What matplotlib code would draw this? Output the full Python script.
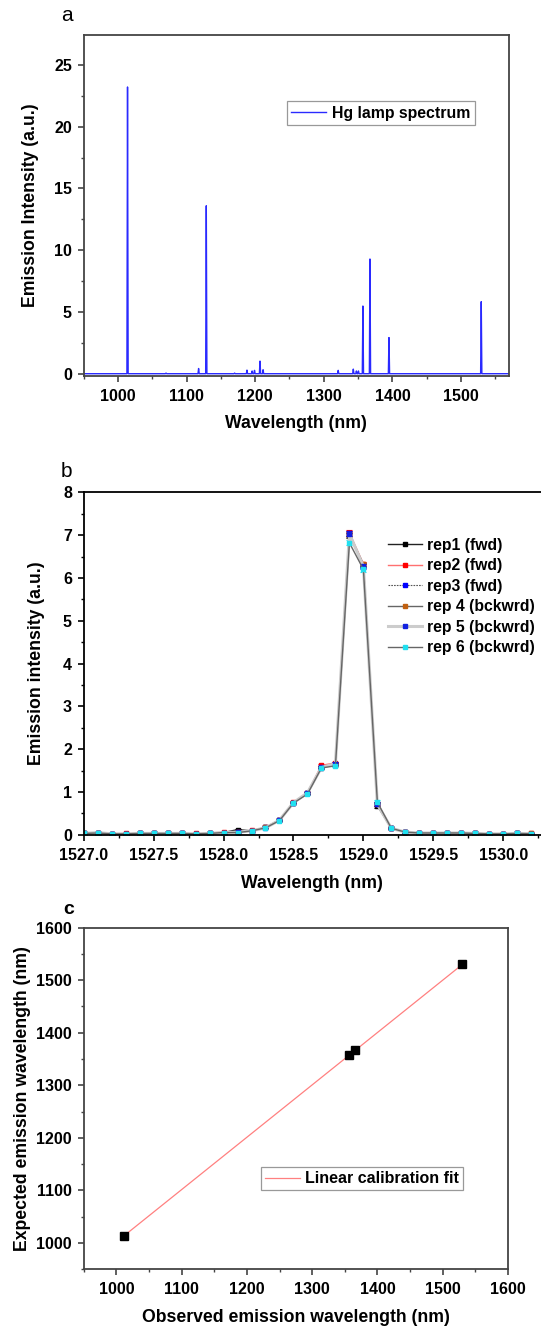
import matplotlib
matplotlib.use('Agg')
import matplotlib.pyplot as plt
from matplotlib.ticker import MultipleLocator, FormatStrFormatter

plt.rcParams['font.family'] = ['Liberation Sans', 'DejaVu Sans']
plt.rcParams['font.weight'] = 'bold'

# panel a: Hg lamp lines (nm) and their peak heights (a.u.)
hg_peaks = [1013.9, 1070.0, 1117.5, 1128.7, 1170.0, 1188.0, 1195.5, 1199.0, 1207.0,
            1211.5, 1321.0, 1343.0, 1347.5, 1350.5, 1357.0, 1367.3, 1395.0, 1529.5]
hg_heights = [23.2, 0.08, 0.45, 13.6, 0.08, 0.32, 0.25, 0.3, 1.05,
              0.35, 0.3, 0.4, 0.25, 0.25, 5.5, 9.3, 2.95, 5.85]
hg_baseline = 0.03

# panel b: six repeated scans around the 1529 nm line
wl_b = [1527.0, 1527.1, 1527.2, 1527.3, 1527.4, 1527.5, 1527.6, 1527.7, 1527.8, 1527.9,
        1528.0, 1528.1, 1528.2, 1528.3, 1528.4, 1528.5, 1528.6, 1528.7, 1528.8, 1528.9,
        1529.0, 1529.1, 1529.2, 1529.3, 1529.4, 1529.5, 1529.6, 1529.7, 1529.8, 1529.9,
        1530.0, 1530.1, 1530.2]
rep1 = [0.03, 0.05, 0.02, 0.02, 0.03, 0.03, 0.03, 0.03, 0.02, 0.03,
        0.05, 0.12, 0.09, 0.17, 0.34, 0.75, 0.97, 1.58, 1.65, 7.00,
        6.30, 0.68, 0.15, 0.06, 0.04, 0.04, 0.04, 0.04, 0.03, 0.02,
        0.02, 0.03, 0.02]
rep2 = [0.03, 0.04, 0.02, 0.03, 0.03, 0.04, 0.03, 0.03, 0.03, 0.04,
        0.06, 0.06, 0.10, 0.17, 0.34, 0.76, 0.98, 1.62, 1.68, 7.05,
        6.33, 0.72, 0.16, 0.06, 0.04, 0.04, 0.04, 0.03, 0.03, 0.02,
        0.02, 0.03, 0.03]
rep3 = [0.03, 0.05, 0.02, 0.02, 0.03, 0.03, 0.03, 0.03, 0.02, 0.03,
        0.05, 0.06, 0.09, 0.17, 0.34, 0.75, 0.98, 1.58, 1.66, 7.04,
        6.28, 0.71, 0.15, 0.06, 0.04, 0.04, 0.04, 0.04, 0.03, 0.02,
        0.02, 0.03, 0.02]
rep4 = [0.03, 0.04, 0.02, 0.02, 0.03, 0.03, 0.03, 0.03, 0.02, 0.03,
        0.05, 0.06, 0.09, 0.17, 0.34, 0.75, 0.97, 1.57, 1.64, 7.02,
        6.32, 0.72, 0.15, 0.06, 0.04, 0.04, 0.04, 0.04, 0.03, 0.02,
        0.02, 0.03, 0.03]
rep5 = [0.03, 0.05, 0.02, 0.02, 0.03, 0.03, 0.03, 0.03, 0.02, 0.03,
        0.05, 0.06, 0.09, 0.16, 0.34, 0.75, 0.98, 1.57, 1.66, 7.03,
        6.27, 0.71, 0.15, 0.06, 0.04, 0.04, 0.04, 0.04, 0.03, 0.02,
        0.02, 0.03, 0.02]
rep6 = [0.03, 0.04, 0.02, 0.02, 0.03, 0.03, 0.03, 0.03, 0.02, 0.03,
        0.05, 0.05, 0.09, 0.16, 0.33, 0.74, 0.95, 1.56, 1.61, 6.82,
        6.20, 0.76, 0.15, 0.06, 0.04, 0.04, 0.04, 0.04, 0.03, 0.02,
        0.02, 0.03, 0.02]
rep_err = [0.01, 0.01, 0.01, 0.01, 0.01, 0.01, 0.01, 0.01, 0.01, 0.01,
           0.01, 0.02, 0.01, 0.01, 0.01, 0.02, 0.02, 0.03, 0.03, 0.06,
           0.05, 0.05, 0.01, 0.01, 0.01, 0.01, 0.01, 0.01, 0.01, 0.01,
           0.01, 0.01, 0.01]
rep_labels = ['rep1 (fwd)', 'rep2 (fwd)', 'rep3 (fwd)',
              'rep 4 (bckwrd)', 'rep 5 (bckwrd)', 'rep 6 (bckwrd)']

# panel c: calibration points
observed = [1012, 1356, 1366, 1530]
expected = [1014, 1357, 1367, 1530]

fig = plt.figure(figsize=(5.41, 13.26), dpi=100)


def style_axes(ax, spine_col):
    for s in ax.spines.values():
        s.set_color(spine_col)
        s.set_linewidth(1.3)
    ax.tick_params(which='major', direction='out', length=4.5, width=1.2,
                   labelsize=11.5, color=spine_col)
    ax.tick_params(axis='x', which='major', pad=5)
    ax.tick_params(axis='y', which='major', pad=4)
    ax.tick_params(which='minor', direction='out', length=2.5, width=1.0,
                   color=spine_col)
    ax.tick_params(top=False, right=False, which='both')
    for lab in ax.get_xticklabels() + ax.get_yticklabels():
        lab.set_fontweight('bold')


LBL = 12.7

# ---------- panel a ----------
ax1 = fig.add_axes([0.1547, 0.7164, 0.7862, 0.2572])
xs, ys = [949.0], [hg_baseline]
for p, h in zip(hg_peaks, hg_heights):
    xs += [p - 0.9, p, p + 0.9]
    ys += [hg_baseline, h, hg_baseline]
xs.append(1572.0)
ys.append(hg_baseline)
ax1.plot(xs, ys, color='#2a2aff', lw=1.0, label='Hg lamp spectrum')
ax1.set_xlim(950, 1570)
ax1.set_ylim(-0.16, 27.4)
ax1.xaxis.set_major_locator(MultipleLocator(100))
ax1.xaxis.set_minor_locator(MultipleLocator(50))
ax1.yaxis.set_major_locator(MultipleLocator(5))
ax1.yaxis.set_minor_locator(MultipleLocator(2.5))
style_axes(ax1, '#444444')
ax1.set_xlabel('Wavelength (nm)', fontsize=LBL, fontweight='bold', labelpad=8)
ax1.set_ylabel('Emission Intensity (a.u.)', fontsize=LBL, fontweight='bold', labelpad=11)
leg1 = ax1.legend(loc='upper left', bbox_to_anchor=(0.477, 0.807), fancybox=False,
                  edgecolor='#999999', framealpha=1, fontsize=11.4, handlelength=2.2,
                  handletextpad=0.35, borderpad=0.3, borderaxespad=0)
leg1.get_frame().set_linewidth(0.9)
fig.text(0.113, 0.9885, 'a', fontsize=15, fontweight='normal', ha='left', va='center')

# ---------- panel b ----------
ax2 = fig.add_axes([0.1547, 0.3705, 0.8453, 0.2582])
styles = [
    dict(color='#222222', mfc='black', mec='black', ls='-', lw=1.0, ecolor='black'),
    dict(color='#ff7070', mfc='red', mec='red', ls='-', lw=1.0, ecolor='red'),
    dict(color='#555555', mfc='blue', mec='blue', ls=(0, (1.5, 1)), lw=0.8, ecolor='blue'),
    dict(color='#666666', mfc='#c06010', mec='#c06010', ls='-', lw=1.0, ecolor='#c06010'),
    dict(color='#cccccc', mfc='#1020e0', mec='#1020e0', ls='-', lw=2.2, ecolor='#1020e0'),
    dict(color='#666666', mfc='#20e0f0', mec='#20e0f0', ls='-', lw=1.0, ecolor='#20e0f0'),
]
handles = []
for ys_rep, lab, st in zip([rep1, rep2, rep3, rep4, rep5, rep6], rep_labels, styles):
    cont = ax2.errorbar(wl_b, ys_rep, yerr=rep_err, marker='s', ms=2.6, capsize=2.5,
                        elinewidth=0.8, capthick=0.8, label=lab, **st)
    handles.append(cont.lines[0])
ax2.set_xlim(1527.0, 1530.27)
ax2.set_ylim(0, 8)
ax2.xaxis.set_major_locator(MultipleLocator(0.5))
ax2.xaxis.set_minor_locator(MultipleLocator(0.25))
ax2.yaxis.set_major_locator(MultipleLocator(1))
ax2.yaxis.set_minor_locator(MultipleLocator(0.5))
ax2.xaxis.set_major_formatter(FormatStrFormatter('%.1f'))
style_axes(ax2, 'black')
ax2.spines['right'].set_visible(False)
ax2.set_xlabel('Wavelength (nm)', fontsize=LBL, fontweight='bold', labelpad=8.5)
ax2.set_ylabel('Emission intensity (a.u.)', fontsize=LBL, fontweight='bold', labelpad=13)
ax2.legend(handles, rep_labels, loc='upper left', bbox_to_anchor=(0.665, 0.867),
           frameon=False, fontsize=11.3, handlelength=2.2, handletextpad=0.3,
           labelspacing=0.35, borderpad=0, borderaxespad=0)
fig.text(0.113, 0.6442, 'b', fontsize=15, fontweight='normal', ha='left', va='center')

# ---------- panel c ----------
ax3 = fig.add_axes([0.1549, 0.0428, 0.7841, 0.2576])
ax3.plot([observed[0], observed[-1]], [expected[0], expected[-1]], color='#ff8080',
         lw=0.9, label='Linear calibration fit')
ax3.plot(observed, expected, ls='none', marker='s', ms=5.2, color='black')
ax3.set_xlim(950, 1600)
ax3.set_ylim(950, 1600)
ax3.xaxis.set_major_locator(MultipleLocator(100))
ax3.xaxis.set_minor_locator(MultipleLocator(50))
ax3.yaxis.set_major_locator(MultipleLocator(100))
ax3.yaxis.set_minor_locator(MultipleLocator(50))
style_axes(ax3, '#444444')
ax3.set_xlabel('Observed emission wavelength (nm)', fontsize=LBL, fontweight='bold', labelpad=8)
ax3.set_ylabel('Expected emission wavelength (nm)', fontsize=LBL, fontweight='bold', labelpad=4)
leg3 = ax3.legend(loc='upper left', bbox_to_anchor=(0.417, 0.298), fancybox=False,
                  edgecolor='#999999', framealpha=1, fontsize=11.5, handlelength=2.2,
                  handletextpad=0.35, borderpad=0.25, borderaxespad=0)
leg3.get_frame().set_linewidth(0.9)
fig.text(0.116, 0.3138, 'c', fontsize=14, fontweight='bold', ha='left', va='center')

fig.savefig('out.png', dpi=100)
